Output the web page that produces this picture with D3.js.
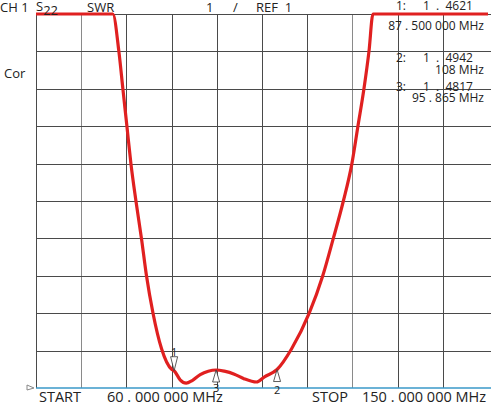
<!DOCTYPE html>
<html>
<head>
<meta charset="utf-8">
<script src="https://cdn.jsdelivr.net/npm/d3@7"></script>
<style>
  body { margin: 0; background: #fff; }
  svg { display: block; }
  text { font-family: "Open Sans", sans-serif; font-size: 13px; fill: #222; white-space: pre; }
  .readout { font-size: 12px; }
  .footer { font-size: 14.5px; }
  .mk { font-size: 11px; }
</style>
</head>
<body>
<svg width="491" height="403"></svg>
<script>
// Sweep settings
const startMHz = 60;
const stopMHz = 150;
const refSWR = 1;
const swrPerDiv = 1;
const divisions = 10;

// Trace (MHz, SWR); values at 11 are clipped at the top
const freqs = [60, 75.3, 76.5, 77.3, 78.1, 78.9, 79.9, 81.0, 82.0, 83.3, 85.0, 87.0, 87.5,
    88.7, 89.9, 91.1, 92.7, 94.3, 95.87, 97.5, 99.5, 101.4, 103.9, 105.5, 108,
    110.9, 114.4, 117.1, 119.2, 121.2, 122.9, 124.1, 125.3, 126.3, 127.1, 150];
const swr = [11, 11, 10.0, 9.0, 8.0, 7.0, 6.0, 5.0, 4.0, 3.0, 2.05, 1.5, 1.4621,
    1.22, 1.13, 1.2, 1.36, 1.45, 1.4817, 1.45, 1.37, 1.25, 1.16, 1.3, 1.4942,
    2.05, 3.0, 4.0, 5.0, 6.0, 7.0, 8.0, 9.0, 10.0, 11, 11];

// Markers
const markerIds = ["1", "2", "3"];
const markerFreqs = [87.5, 108, 95.865];
const markerVals = [1.4621, 1.4942, 1.4817];
const markerFreqLabels = ["87 . 500 000 MHz", "108 MHz", "95 . 865 MHz"];
const markerValLabels = ["1  .  4621", "1  .  4942", "1  .  4817"];

const svg = d3.select("svg");

const x = d3.scaleLinear().domain([startMHz, stopMHz]).range([36, 488]);
const y = d3.scaleLinear().domain([refSWR, refSWR + swrPerDiv * divisions]).range([388, 14]);

// Grid
const xTicks = d3.range(0, divisions).map(i => startMHz + i * (stopMHz - startMHz) / divisions);
const yTicks = d3.range(1, divisions + 1).map(i => refSWR + i * swrPerDiv);

svg.append("g")
    .selectAll("line")
    .data(xTicks)
    .join("line")
    .attr("x1", d => Math.round(x(d)) + 0.5)
    .attr("x2", d => Math.round(x(d)) + 0.5)
    .attr("y1", y.range()[1])
    .attr("y2", y.range()[0])
    .attr("stroke", (d, i) => (i === 1 || i === 7) ? "#8a8a8a" : "#4a4a4a")
    .attr("stroke-width", 1);

svg.append("g")
    .selectAll("line")
    .data(yTicks)
    .join("line")
    .attr("x1", x.range()[0])
    .attr("x2", 491)
    .attr("y1", d => Math.round(y(d)) + 0.5)
    .attr("y2", d => Math.round(y(d)) + 0.5)
    .attr("stroke", "#4a4a4a")
    .attr("stroke-width", 1);

// Reference line
svg.append("line")
    .attr("x1", x.range()[0]).attr("x2", 491)
    .attr("y1", y(refSWR)).attr("y2", y(refSWR))
    .attr("stroke", "#3a98c8")
    .attr("stroke-width", 1.5);

// Reference pointer
svg.append("path")
    .attr("d", `M27,${y(refSWR) - 3} L34,${y(refSWR)} L27,${y(refSWR) + 2} Z`)
    .attr("fill", "#fff")
    .attr("stroke", "#888")
    .attr("stroke-width", 1);

// Trace
svg.append("clipPath").attr("id", "clip")
    .append("rect").attr("x", 0).attr("y", 12).attr("width", 491).attr("height", 380);

const line = d3.line()
    .x((d, i) => x(freqs[i]))
    .y((d, i) => y(swr[i]))
    .curve(d3.curveMonotoneX);

svg.append("path")
    .datum(swr)
    .attr("d", line)
    .attr("fill", "none")
    .attr("stroke", "#e02020")
    .attr("stroke-width", 3.2)
    .attr("stroke-linejoin", "round")
    .attr("clip-path", "url(#clip)");

// Marker triangles
markerIds.forEach((id, i) => {
    const mx = x(markerFreqs[i]);
    const my = y(markerVals[i]);
    if (id === "1") {
        svg.append("path")
            .attr("d", `M${mx - 3.5},${my - 14} L${mx + 3.5},${my - 14} L${mx},${my} Z`)
            .attr("fill", "#fff").attr("stroke", "#333").attr("stroke-width", 0.8);
        svg.append("text").attr("class", "mk").attr("x", mx).attr("y", my - 15)
            .attr("text-anchor", "middle").text(id);
    } else {
        svg.append("path")
            .attr("d", `M${mx - 3.5},${my + 12} L${mx + 3.5},${my + 12} L${mx},${my} Z`)
            .attr("fill", "#fff").attr("stroke", "#333").attr("stroke-width", 0.8);
        svg.append("text").attr("class", "mk").attr("x", mx).attr("y", my + (id === "2" ? 24 : 22))
            .attr("text-anchor", "middle").text(id);
    }
});

// Header
const header = svg.append("g");
header.append("text").attr("x", 0).attr("y", 12).text("CH 1");
const s = header.append("text").attr("x", 36).attr("y", 11);
s.append("tspan").text("S");
s.append("tspan").attr("dy", 4).text("22");
header.append("text").attr("x", 87).attr("y", 12).text("SWR");
header.append("text").attr("x", 206).attr("y", 12).text("1");
header.append("text").attr("x", 233).attr("y", 12).text("/");
header.append("text").attr("x", 256).attr("y", 12).text("REF  1");
header.append("text").attr("x", 4).attr("y", 78).text("Cor");

// Marker readouts
const idY = [10, 62, 91];
const freqY = [30, 74, 102];
markerIds.forEach((id, i) => {
    header.append("text").attr("class", "readout").attr("x", 396).attr("y", idY[i]).text(id + ":");
    header.append("text").attr("class", "readout").attr("x", 423).attr("y", idY[i]).text(markerValLabels[i]);
    header.append("text").attr("class", "readout").attr("x", 484).attr("y", freqY[i])
        .attr("text-anchor", "end").text(markerFreqLabels[i]);
});

// Footer
svg.append("text").attr("class", "footer").attr("x", 39).attr("y", 402).text("START");
svg.append("text").attr("class", "footer").attr("x", 107).attr("y", 402).text(`${startMHz} . 000 000 MHz`);
svg.append("text").attr("class", "footer").attr("x", 312).attr("y", 402).text("STOP");
svg.append("text").attr("class", "footer").attr("x", 362).attr("y", 402).text(`${stopMHz} . 000 000 MHz`);
</script>
</body>
</html>
